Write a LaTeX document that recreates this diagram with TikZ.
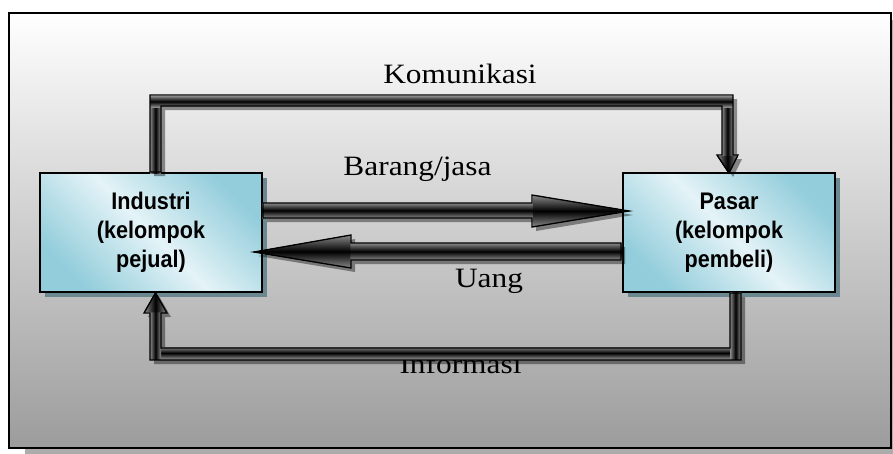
\documentclass[tikz,border=0pt]{standalone}
\usepackage{fontspec}
\setmainfont{Liberation Serif}[FakeStretch=1.12]
\newfontfamily\boxfont{Liberation Sans}[FakeStretch=0.9]
\usetikzlibrary{calc,shadows}
\definecolor{tubeg}{HTML}{8A8A8A}
\definecolor{boxdark}{HTML}{93CDDB}
\definecolor{boxlight}{HTML}{E4F3F7}
\definecolor{boxsh}{HTML}{6B8891}
\definecolor{frbot}{HTML}{9C9C9C}
\newcommand\KomPath{($(ind.north)+(-1,0)$) |- ($(pas.north)+(4,-77)$) -- ($(pas.north)+(4,-17)$) -- ($(pas.north)+(9,-17)$) -- ($(pas.north)+(0,1)$) -- ($(pas.north)+(-12,-17)$) -- ($(pas.north)+(-7,-17)$) |- ($(ind.north)+(10,-66)$) -- ($(ind.north)+(10,0)$) -- cycle}
\newcommand\InfPath{($(pas.south)+(1,0)$) -- ($(pas.south)+(12,0)$) |- ($(ind.south)+(-1,67)$) -- ($(ind.south)+(-1,20)$) -- ($(ind.south)+(-7,20)$) -- ($(ind.south)+(4.5,0)$) -- ($(ind.south)+(16,20)$) -- ($(ind.south)+(10,20)$) |- ($(pas.south)+(1,55)$) -- cycle}
\newcommand\BarPath{($(ind.east)+(0,-29.5)$) -- ($(pas.west)+(-90,-29.5)$) -- ($(pas.west)+(-90,-37.5)$) -- ($(pas.west)+(7,-21.5)$) -- ($(pas.west)+(-90,-5.5)$) -- ($(pas.west)+(-90,-14.5)$) -- ($(ind.east)+(0,-14.5)$) -- cycle}
\newcommand\UangPath{($(pas.west)+(-1,10.5)$) -- ($(ind.east)+(88,10.5)$) -- ($(ind.east)+(88,2.5)$) -- ($(ind.east)+(-9,19.5)$) -- ($(ind.east)+(88,35.5)$) -- ($(ind.east)+(88,27.5)$) -- ($(pas.west)+(-1,27.5)$) -- cycle}
\begin{document}
\begin{tikzpicture}[x=1pt,y=-1pt,
  lbl/.style={font=\fontsize{28}{30}\selectfont, anchor=base, inner sep=0pt},
  entity/.style={draw=black, line width=2pt, minimum width=222pt, minimum height=119pt,
    top color=boxdark, bottom color=boxdark, middle color=boxlight, shading angle=-45,
    align=center, font=\boxfont\bfseries\fontsize{24}{29}\selectfont,
    drop shadow={shadow xshift=5pt, shadow yshift=-5pt, fill=boxsh, opacity=1}},
  tubeH/.style={top color=tubeg, bottom color=tubeg, middle color=black},
  tubeV/.style={left color=tubeg, right color=tubeg, middle color=black},
  tubeline/.style={draw=black, line width=1.3pt, line join=miter},
  tubeshadow/.style={fill=black, opacity=0.4, transform canvas={shift={(4pt,-4pt)}}}]
\useasboundingbox (0,0) rectangle (893,453);
\fill[white] (0,0) rectangle (893,453);
% frame
\fill[gray!65] (25,20) rectangle (895,455);
\draw[line width=2pt, top color=white, bottom color=frbot] (8.5,12.5) rectangle (891,447.5);
% labels
\node[lbl] (tkom) at (460,83) {Komunikasi};
\node[lbl] (tbar) at (417.5,175) {Barang/jasa};
\node[lbl] (tuang) at (489,287) {Uang};
\node[lbl] (tinfo) at (460.5,373) {Informasi};
% boxes
\node[entity] (ind) at (151,232.5) {Industri\\(kelompok\\pejual)};
\node[entity, minimum width=212pt] (pas) at (729,232.5) {Pasar\\(kelompok\\pembeli)};
% shadows of tubes
\fill[tubeshadow] \KomPath;
\fill[tubeshadow] \InfPath;
\fill[tubeshadow] \BarPath;
\fill[tubeshadow] \UangPath;
% Komunikasi
\fill[tubeV] (150,97) rectangle (161,173);
\fill[tubeV] (722,97) rectangle (733,157);
\fill[tubeH] (150,96) rectangle (733,107);
\fill[tubeV] (717,156) -- (738,156) -- (729,174) -- cycle;
\draw[tubeline] \KomPath;
% Informasi
\fill[tubeH] (150,347) rectangle (741,359);
\fill[tubeV] (730,292) rectangle (741,359);
\fill[tubeV] (150,312) rectangle (161,359);
\fill[tubeV] (144,312) -- (155.5,292) -- (167,312) -- cycle;
\draw[tubeline] \InfPath;
% Barang/jasa
\fill[tubeH] (262,203) rectangle (533,218);
\fill[tubeH] (533,195) -- (630,211) -- (533,227) -- cycle;
\draw[tubeline] \BarPath;
% Uang
\fill[tubeH] (350,243) rectangle (622,260);
\fill[tubeH] (350,235) -- (253,252) -- (350,268) -- cycle;
\draw[tubeline] \UangPath;
\end{tikzpicture}
\end{document}
